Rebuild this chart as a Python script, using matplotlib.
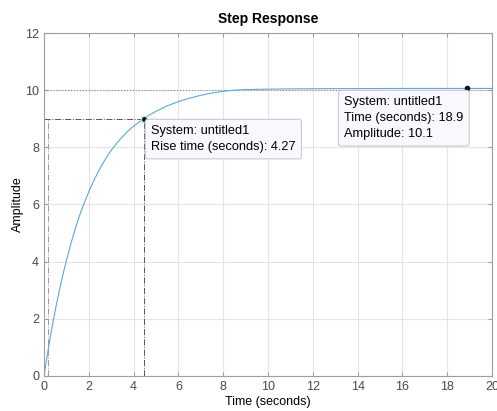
import numpy as np
import matplotlib.pyplot as plt

plt.rcParams['font.family'] = ['Liberation Sans', 'DejaVu Sans']

# step response
time_s = [0, 0.1, 0.2, 0.3, 0.42, 0.55, 0.7, 0.85, 1.0, 1.2, 1.4, 1.6, 1.8, 2.0, 2.25,
          2.5, 2.75, 3.0, 3.25, 3.5, 3.75, 4.0, 4.25, 4.45, 4.75, 5.0, 5.5, 6.0, 6.5,
          7.0, 7.5, 8.0, 8.5, 9.0, 10.0, 11.0, 12.0, 14.0, 16.0, 18.9, 20.0]
amplitude = [0.0, 0.5, 0.98, 1.44, 1.96, 2.48, 3.04, 3.56, 4.04, 4.63, 5.16, 5.64, 6.06,
             6.45, 6.88, 7.26, 7.6, 7.89, 8.15, 8.37, 8.57, 8.74, 8.89, 9.0, 9.15, 9.26,
             9.45, 9.6, 9.72, 9.82, 9.9, 9.96, 10.0, 10.02, 10.035, 10.045, 10.05, 10.055,
             10.06, 10.06, 10.06]

final_value = 10.0
t10, t90 = 0.19, 4.45
rise_time = 4.27
peak_t, peak_amp = 18.9, 10.06

fig = plt.figure(figsize=(4.97, 4.11), dpi=100)
ax = fig.add_axes([0.0885, 0.0852, 0.9015, 0.8345])

ax.axhline(final_value, color='#8a8a8a', ls=':', lw=0.8, zorder=1)
ax.plot([0, t90], [0.9 * final_value] * 2, color='#555555', ls='-.', lw=0.7, zorder=1)
ax.plot([t90, t90], [0, 0.9 * final_value], color='#555555', ls='-.', lw=0.7, zorder=1)
ax.plot([t10, t10], [0, 0.9 * final_value], color='#9a9a9a', ls='-.', lw=0.7, zorder=1)

ax.plot(time_s, amplitude, color='#5aa8de', lw=0.8, zorder=2)

ax.plot(t90, 0.9 * final_value, 'o', ms=4.5, mfc='#111111', mec='#bfe3de', mew=1.0, zorder=4)
ax.plot(peak_t, peak_amp, 'o', ms=3, color='#111111', zorder=4)

box = dict(boxstyle='round,pad=0.45,rounding_size=0.2', fc='#f8f8fd', ec='#c9c9d6', lw=0.8)
ax.text(4.78, 8.78, f'System: untitled1\nRise time (seconds): {rise_time}',
        fontsize=9.2, va='top', ha='left', bbox=box, linespacing=1.45, zorder=5)
ax.text(13.4, 9.79, f'System: untitled1\nTime (seconds): {peak_t}\nAmplitude: {peak_amp:.1f}',
        fontsize=9.2, va='top', ha='left', bbox=box, linespacing=1.45, zorder=5)

ax.set_xlim(0, 20)
ax.set_ylim(0, 12)
ax.set_xticks(np.arange(0, 21, 2))
ax.set_yticks(np.arange(0, 13, 2))
ax.grid(True, color='#e4e4e4', lw=0.8)
ax.set_axisbelow(True)
for s in ax.spines.values():
    s.set_color('#9e9e9e')
    s.set_linewidth(0.8)
ax.tick_params(direction='in', length=3, colors='#9e9e9e', labelcolor='#4a4a4a',
               labelsize=9, top=True, right=True)

ax.set_title('Step Response', fontsize=10, fontweight='bold', pad=7)
ax.set_xlabel('Time (seconds)', fontsize=9, labelpad=2)
ax.set_ylabel('Amplitude', fontsize=9, labelpad=1)

fig.savefig('out.png', dpi=100)
